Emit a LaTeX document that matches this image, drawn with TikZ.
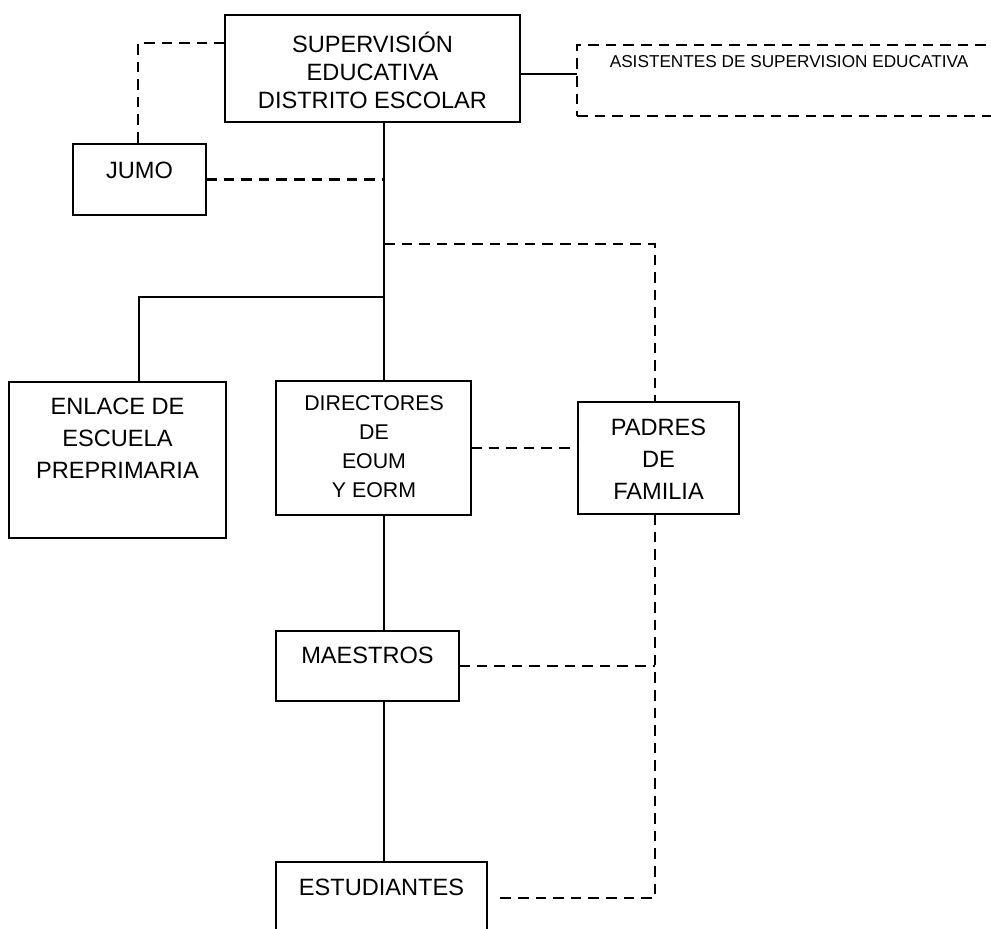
\documentclass[tikz,border=0pt]{standalone}
\usepackage{fontspec}
\setmainfont{Liberation Sans}
\begin{document}
\begin{tikzpicture}[x=0.75pt,y=-0.75pt,
  box/.style={draw,line width=1.5pt,rectangle,inner sep=0pt,outer sep=0pt},
  dbox/.style={box,line width=2.2pt,dash pattern=on 7.9pt off 5.3pt},
  txt/.style={align=center,inner sep=0pt,font=\fontsize{17.7}{24}\selectfont},
  solidline/.style={line width=1.5pt},
  dashline/.style={line width=2.2pt,dash pattern=on 7.9pt off 5.3pt}]
\useasboundingbox (0,0) rectangle (991,928);
% boxes
\node[box,minimum width=221.25pt,minimum height=80.25pt] (sup) at (372.5,68.5) {};
\node[box,minimum width=99.75pt,minimum height=53.25pt] (jumo) at (139.5,179.5) {};
\node[dbox,minimum width=324.75pt,minimum height=53.25pt] (asis) at (793.5,80.5) {};
\node[box,minimum width=162.75pt,minimum height=117pt] (enl) at (117.5,460) {};
\node[box,minimum width=146.25pt,minimum height=100.5pt] (dir) at (373.5,448) {};
\node[box,minimum width=120.75pt,minimum height=84pt] (pad) at (658.5,458) {};
\node[box,minimum width=137.25pt,minimum height=52.5pt] (maes) at (367.5,666) {};
\node[box,minimum width=158.25pt,minimum height=58.5pt] (est) at (381.5,901) {};
% texts
\node[txt,font=\fontsize{17.7}{21}\selectfont] (tsup) at (372.5,70) {SUPERVISIÓN\\EDUCATIVA\\DISTRITO ESCOLAR};
\node[txt] (tjumo) at (139.5,170) {JUMO};
\node[inner sep=0pt,anchor=base,font=\fontsize{12.9}{15}\selectfont] (tasis) at (789,67) {ASISTENTES DE SUPERVISION EDUCATIVA};
\node[txt] (tenl) at (117.5,438) {ENLACE DE\\ESCUELA\\PREPRIMARIA};
\node[txt,font=\fontsize{16}{21.75}\selectfont] (tdir) at (374,446.5) {DIRECTORES\\DE\\EOUM\\Y EORM};
\node[txt] (tpad) at (658.5,459) {PADRES\\DE\\FAMILIA};
\node[txt] (tmaes) at (367.5,655) {MAESTROS};
\node[txt] (test) at (381.5,887) {ESTUDIANTES};
% helper coordinates
\coordinate (trunk) at (384,0);
\coordinate (br) at (139,297);
\coordinate (jl) at (138,43);
\coordinate (pc) at (655,244);
\coordinate (asisjoin) at (0,74);
\coordinate (estjoin) at (0,898);
% solid connectors
\draw[solidline] (sup.south -| trunk) -- (dir.north -| trunk);
\draw[solidline] (dir.south -| trunk) -- (maes.north -| trunk);
\draw[solidline] (maes.south -| trunk) -- (est.north -| trunk);
\draw[solidline] (br -| trunk) -- (br) -- (enl.north -| br);
\draw[solidline] (sup.east |- asisjoin) -- (asis.west |- asisjoin);
% dashed connectors
\draw[dashline] (sup.west |- jl) -- (jl) -- (jumo.north -| jl);
\draw[dashline] (jumo.east) -- (jumo.east -| trunk);
\draw[dashline] (pc -| trunk) -- (pc) -- (pad.north -| pc);
\draw[dashline] (dir.east) -- (dir.east -| pad.west);
\draw[dashline] (maes.east) -- (maes.east -| pc);
\draw[dashline] (pad.south -| pc) -- (pc |- estjoin) -- ([xshift=6pt]est.east |- estjoin);
\end{tikzpicture}
\end{document}
